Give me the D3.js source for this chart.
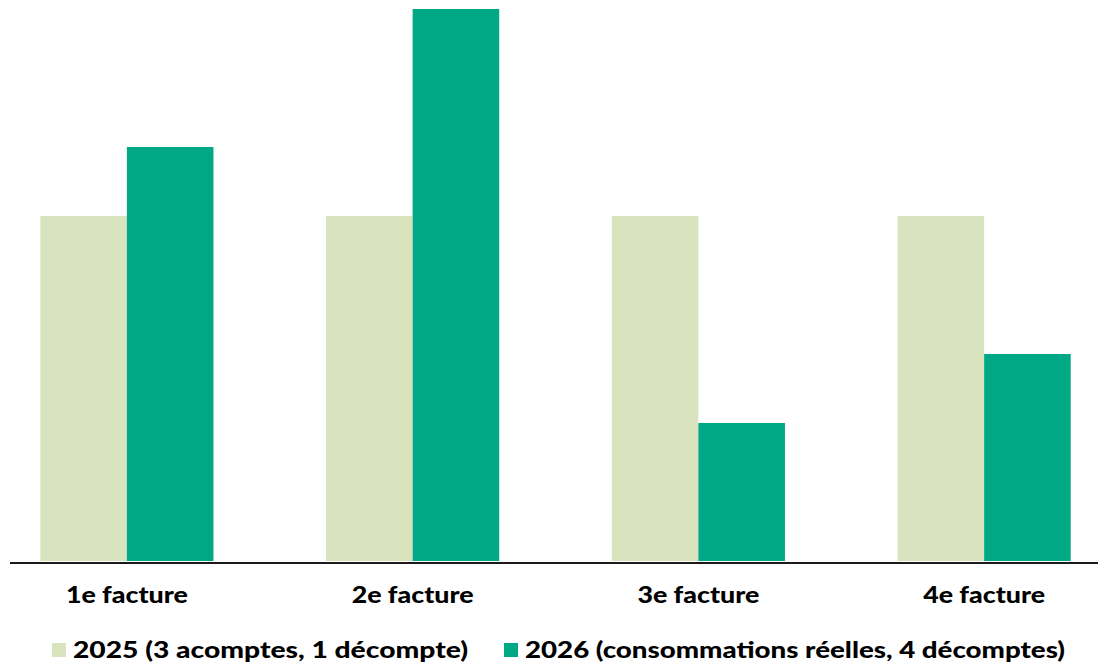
<!DOCTYPE html>
<html>
<head>
<meta charset="utf-8">
<script src="https://cdn.jsdelivr.net/npm/d3@7"></script>
<style>
  body { margin: 0; background: #fff; }
  text { font-family: "Century Gothic", "Lato", "DejaVu Sans", sans-serif; font-weight: 900; fill: #000; }
</style>
</head>
<body>
<svg id="chart" width="1098" height="666"></svg>
<script>
// -------------- DATA ----------------- //
const categories = ["1e facture", "2e facture", "3e facture", "4e facture"];
const seriesNames = ["2025 (3 acomptes, 1 décompte)", "2026 (consommations réelles, 4 décomptes)"];
const values2025 = [5, 5, 5, 5];
const values2026 = [6, 8, 2, 3];
const colors = ["#d9e4bf", "#00a886"];

// -------------- SETUP ----------------- //
const svg = d3.select("#chart");
const baseline = 561;

const x0 = d3.scaleBand()
    .domain(categories)
    .range([-16, 1127])
    .paddingInner(0.394)
    .paddingOuter(0.197);

const x1 = d3.scaleBand()
    .domain([0, 1])
    .range([0, x0.bandwidth()]);

const y = d3.scaleLinear()
    .domain([0, 8])
    .range([baseline, 9]);

const series = [values2025, values2026];

// -------------- BARS ----------------- //
const groups = svg.append("g")
    .selectAll("g")
    .data(categories)
    .join("g")
    .attr("transform", d => `translate(${x0(d)},0)`);

groups.selectAll("rect")
    .data((d, i) => series.map((s, k) => ({ k, v: s[i] })))
    .join("rect")
    .attr("x", d => x1(d.k))
    .attr("width", x1.bandwidth())
    .attr("y", d => y(d.v))
    .attr("height", d => y(0) - y(d.v))
    .attr("fill", d => colors[d.k]);

// axis line
svg.append("line")
    .attr("x1", 10).attr("x2", 1098)
    .attr("y1", 563).attr("y2", 563)
    .attr("stroke", "#1a1a1a")
    .attr("stroke-width", 2);

// category labels
svg.append("g")
    .selectAll("text")
    .data(categories)
    .join("text")
    .attr("x", d => x0(d) + x0.bandwidth() / 2)
    .attr("y", 603)
    .attr("text-anchor", "middle")
    .attr("font-size", 23)
    .attr("textLength", 122)
    .attr("lengthAdjust", "spacingAndGlyphs")
    .text(d => d);

// -------------- LEGEND ----------------- //
const legendItems = [
    { x: 52, tx: 73, w: 395 },
    { x: 504, tx: 525, w: 540 }
];
const legend = svg.append("g")
    .selectAll("g")
    .data(seriesNames)
    .join("g");

legend.append("rect")
    .attr("x", (d, i) => legendItems[i].x)
    .attr("y", 643)
    .attr("width", 14)
    .attr("height", 14)
    .attr("fill", (d, i) => colors[i]);

legend.append("text")
    .attr("x", (d, i) => legendItems[i].tx)
    .attr("y", 658)
    .attr("font-size", 22)
    .attr("textLength", (d, i) => legendItems[i].w)
    .attr("lengthAdjust", "spacingAndGlyphs")
    .text(d => d);
</script>
</body>
</html>
